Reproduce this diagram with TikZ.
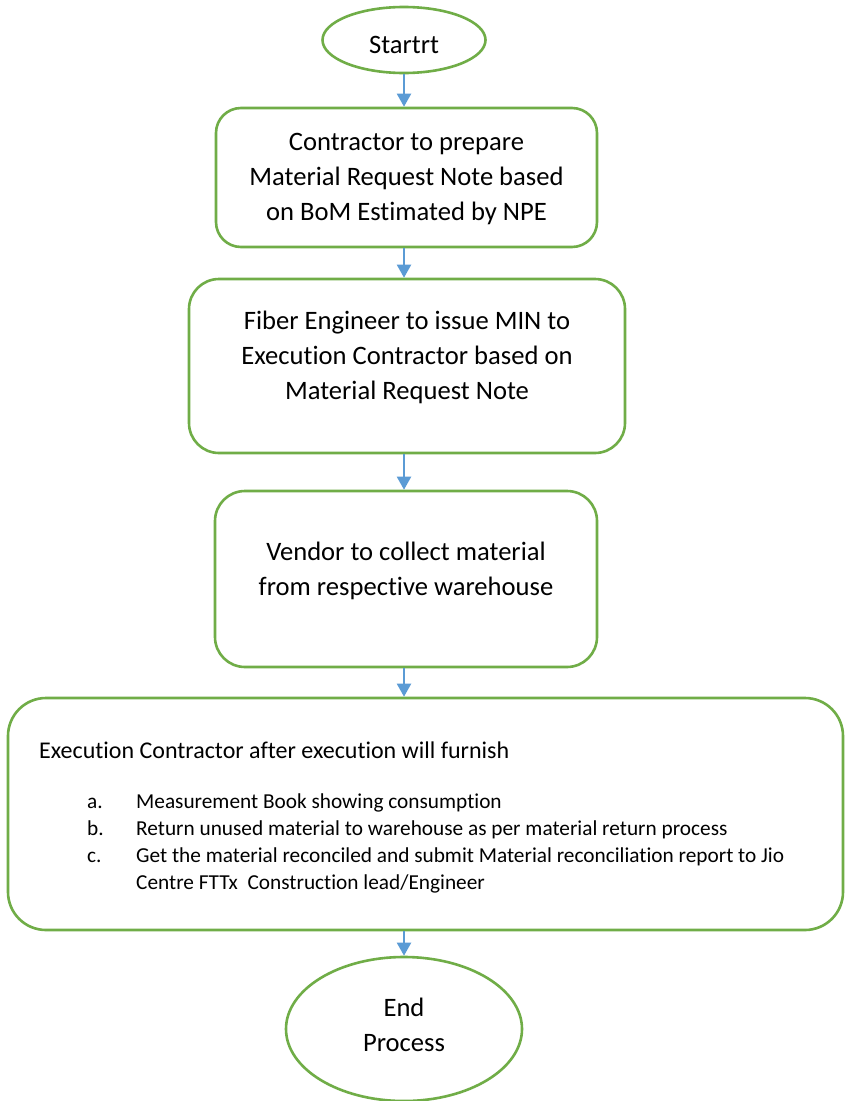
\documentclass[tikz,border=0pt]{standalone}
\usepackage{fontspec}
\setmainfont[Ligatures=NoCommon]{Carlito}
\usetikzlibrary{arrows.meta,shapes.geometric}
\definecolor{flowgreen}{HTML}{70AD47}
\definecolor{flowblue}{HTML}{5B9BD5}
\begin{document}
\begin{tikzpicture}[x=1pt,y=-1pt,
  outline/.style={draw=flowgreen,line width=2.6pt,fill=white,inner sep=0pt},
  roundbox/.style={outline,rectangle,rounded corners=#1},
  terminal/.style={outline,ellipse},
  steptext/.style={align=center,inner sep=0pt,font=\fontsize{26.6}{35}\selectfont},
  headtext/.style={align=left,inner sep=0pt,font=\fontsize{24}{30}\selectfont},
  listtext/.style={align=left,inner sep=0pt,font=\fontsize{21.3}{27}\selectfont},
  link/.style={draw=flowblue,line width=2pt,-{Triangle[width=14pt,length=13pt]}}]
\useasboundingbox[fill=white] (0,0) rectangle (847,1101);

% shapes
\node[terminal,minimum width=163pt,minimum height=66pt] (start) at (404,40) {};
\node[roundbox=25pt,minimum width=381pt,minimum height=139pt] (prep) at (406.5,177.5) {};
\node[roundbox=30pt,minimum width=436pt,minimum height=174pt] (issue) at (407,366) {};
\node[roundbox=30pt,minimum width=382pt,minimum height=176pt] (collect) at (406,579) {};
\node[roundbox=38pt,minimum width=835pt,minimum height=232pt] (furnish) at (425.5,814) {};
\node[terminal,minimum width=236pt,minimum height=144pt] (finish) at (404,1029) {};

% texts
\node[steptext] (starttxt) at (404,45) {Startrt};
\node[steptext] (preptxt) at (406.5,179) {Contractor to prepare\\Material Request Note based\\on BoM Estimated by NPE};
\node[steptext] (issuetxt) at (407,357) {Fiber Engineer to issue MIN to\\Execution Contractor based on\\Material Request Note};
\node[steptext] (collecttxt) at (406,570.5) {Vendor to collect material\\from respective warehouse};
\node[steptext] (finishtxt) at (404,1025) {End\\Process};
\node[headtext,anchor=base west] (furnishhead) at (39,758) {Execution Contractor after execution will furnish};
\node[listtext,anchor=base west] (furnishlist) at (87,808) {%
  \begin{tabular}[t]{@{}p{49pt}@{}l@{}}
  a. & Measurement Book showing consumption\\
  b. & Return unused material to warehouse as per material return process\\
  c. & Get the material reconciled and submit Material reconciliation report to Jio\\
     & Centre FTTx\ \ Construction lead/Engineer
  \end{tabular}};

% connectors
\draw[link] (start.south) -- (start.south |- prep.north);
\draw[link] (prep.south -| start.south) -- (issue.north -| start.south);
\draw[link] (issue.south -| start.south) -- (collect.north -| start.south);
\draw[link] (collect.south -| start.south) -- (furnish.north -| start.south);
\draw[link] (furnish.south -| finish.north) -- (finish.north);
\end{tikzpicture}
\end{document}
